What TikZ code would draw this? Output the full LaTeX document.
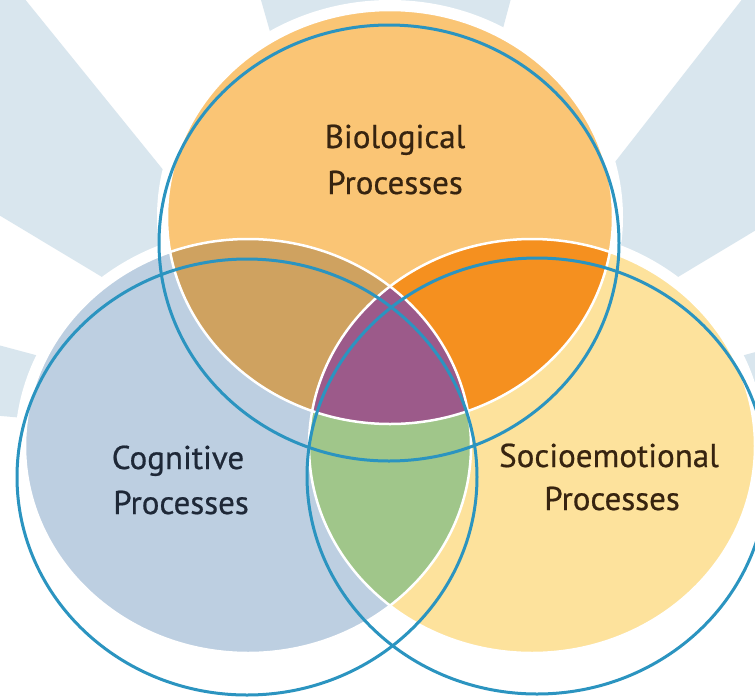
\documentclass[tikz,border=0pt]{standalone}
\usepackage{fontspec}
\setmainfont{PT Sans}
\newfontfamily\areafont[BoldFont={PT Sans}, BoldFeatures={FakeBold=0.6}]{PT Sans}
\usepackage{xcolor}
\usetikzlibrary{calc}

\definecolor{raygrey}{RGB}{217,230,238}
\definecolor{ringblue}{RGB}{43,148,192}
\definecolor{biofill}{RGB}{250,197,117}
\definecolor{cogfill}{RGB}{189,207,225}
\definecolor{socfill}{RGB}{253,226,156}
\definecolor{biocog}{RGB}{207,162,96}
\definecolor{biosoc}{RGB}{245,144,31}
\definecolor{cogsoc}{RGB}{160,198,138}
\definecolor{allthree}{RGB}{156,90,138}
\definecolor{browntext}{RGB}{55,36,16}
\definecolor{navytext}{RGB}{30,40,55}

\begin{document}
\begin{tikzpicture}[x=1pt,y=-1pt,
    blob/.style={x radius=223, y radius=207},
    halo/.style={x radius=233, y radius=217},
    ring/.style={x radius=230, y radius=218},
    seam/.style={draw=white, line width=2.5pt},
    outline/.style={draw=ringblue, line width=3pt},
    areaname/.style={font=\areafont\bfseries\fontsize{33}{38}\selectfont, inner sep=0pt, anchor=base}]
    \clip (0,0) rectangle (755,697);
    \fill[white] (0,0) rectangle (755,697);

    % background rays
    \coordinate (hub) at (390,450);
    \foreach \a/\b in {5/15,31/52,75/106,129/149,165/175}
        \fill[raygrey] (hub) -- ($(hub)+(-\a:1200)$) -- ($(hub)+(-\b:1200)$) -- cycle;

    % filled discs
    \coordinate (bio) at (390,217);
    \coordinate (cog) at (248,446);
    \coordinate (soc) at (532,446);
    \foreach \c in {bio,cog,soc}
        \fill[white] (\c) ellipse[halo];
    \fill[biofill] (bio) ellipse[blob];
    \fill[cogfill] (cog) ellipse[blob];
    \fill[socfill] (soc) ellipse[blob];

    % overlaps
    \begin{scope}
        \clip (cog) ellipse[blob];
        \fill[cogsoc] (soc) ellipse[blob];
    \end{scope}
    \begin{scope}
        \clip (bio) ellipse[blob];
        \fill[biocog] (cog) ellipse[blob];
        \fill[biosoc] (soc) ellipse[blob];
        \clip (cog) ellipse[blob];
        \fill[allthree] (soc) ellipse[blob];
    \end{scope}
    \foreach \c in {bio,cog,soc}
        \draw[seam] (\c) ellipse[blob];

    % labels
    \node[areaname, text=browntext] (bio1) at (395,148) {Biological};
    \node[areaname, text=browntext] (bio2) at (395,194) {Processes};
    \node[areaname, text=navytext] (cog1) at (178,469) {Cognitive};
    \node[areaname, text=navytext] (cog2) at (181,514) {Processes};
    \node[areaname, text=browntext] (soc1) at (609,467) {Socioemotional};
    \node[areaname, text=browntext] (soc2) at (612,510) {Processes};

    % blue rings
    \draw[outline] (389,243) ellipse[ring];
    \draw[outline] (247,477) ellipse[ring];
    \draw[outline] (537,476) ellipse[ring];
\end{tikzpicture}
\end{document}
